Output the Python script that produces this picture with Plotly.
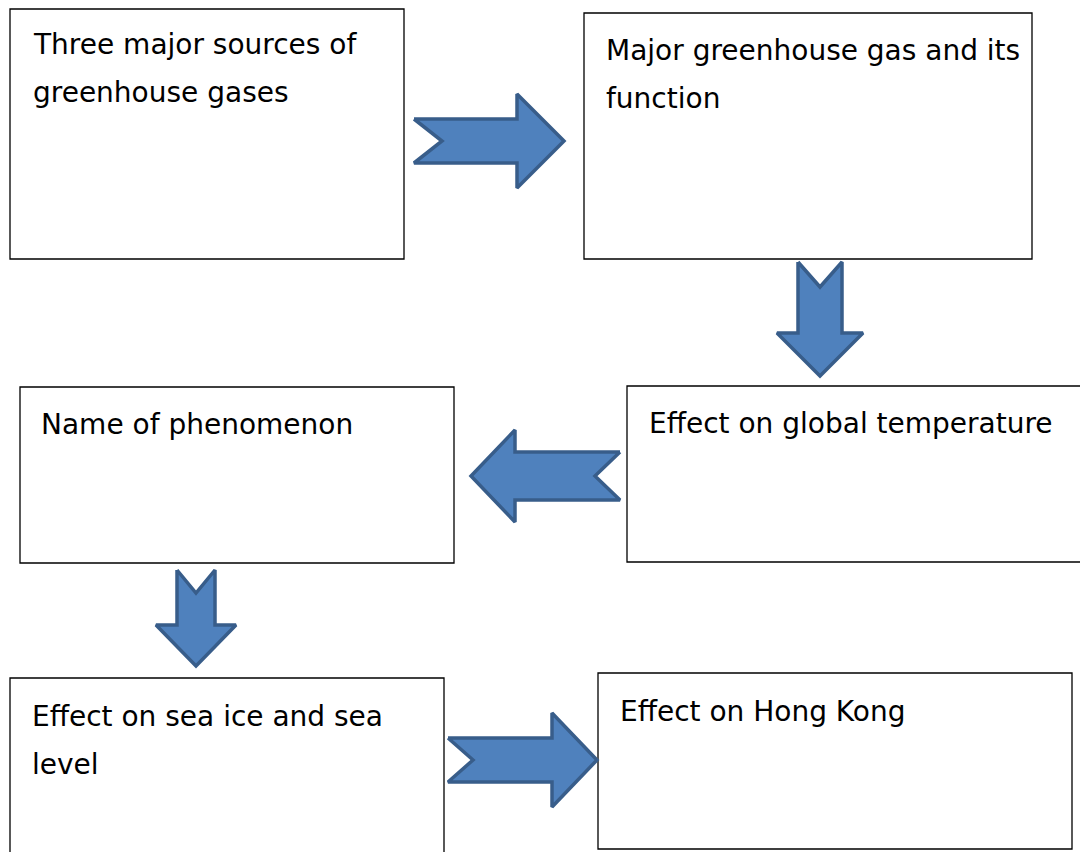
import plotly.graph_objects as go

# Box corners: (x0, y0, x1, y1) in pixel-like diagram units
box_x0 = [10, 584, 20, 627, 10, 598]
box_y0 = [9, 13, 387, 386, 678, 673]
box_x1 = [404, 1032, 454, 1096, 444, 1072]
box_y1 = [259, 259, 563, 562, 870, 849]

# Text lines in each box
box_lines = [
    ["Three major sources of", "greenhouse gases"],
    ["Major greenhouse gas and its", "function"],
    ["Name of phenomenon"],
    ["Effect on global temperature"],
    ["Effect on sea ice and sea", "level"],
    ["Effect on Hong Kong"],
]
text_x = [31, 604, 39, 647, 30, 618]
text_y = [44, 50, 424, 423, 716, 711]
line_gap = 48

# Block arrows: direction, tail position, tip position, shaft half-width, head half-width, head length, notch depth
arrow_dir = ["right", "down", "left", "down", "right"]
arrow_tail = [(414, 141), (820, 262), (620, 476), (196, 570), (448, 760)]
arrow_tip = [(564, 141), (820, 376), (471, 476), (196, 666), (597, 760)]
arrow_shaft_half = [22, 22, 24, 19, 22]
arrow_head_half = [47, 43, 46, 40, 47]
arrow_head_len = [47, 43, 44, 41, 45]
arrow_notch = [28, 25, 25, 23, 25]

fill_color = "#4F81BD"
edge_color = "#385D8A"

# page body margin offset (browser default)
off = 8

fig = go.Figure()

for x0, y0, x1, y1 in zip(box_x0, box_y0, box_x1, box_y1):
    fig.add_shape(type="rect", xref="x", yref="y", x0=x0, y0=y0, x1=x1, y1=y1,
                  line=dict(color="#000000", width=1.3), fillcolor="white", layer="below")


def arrow_polygon(d, tail, tip, sh, hh, hl, nd):
    if d in ("right", "left"):
        L = abs(tip[0] - tail[0])
    else:
        L = abs(tip[1] - tail[1])
    local = [(0, -sh), (L - hl, -sh), (L - hl, -hh), (L, 0), (L - hl, hh), (L - hl, sh), (0, sh), (nd, 0), (0, -sh)]
    xs, ys = [], []
    for u, v in local:
        if d == "right":
            xs.append(tail[0] + u); ys.append(tail[1] + v)
        elif d == "left":
            xs.append(tail[0] - u); ys.append(tail[1] + v)
        else:
            xs.append(tail[0] + v); ys.append(tail[1] + u)
    return xs, ys


for d, tl, tp, sh, hh, hl, nd in zip(arrow_dir, arrow_tail, arrow_tip, arrow_shaft_half,
                                     arrow_head_half, arrow_head_len, arrow_notch):
    xs, ys = arrow_polygon(d, tl, tp, sh, hh, hl, nd)
    fig.add_trace(go.Scatter(x=xs, y=ys, mode="lines", fill="toself", fillcolor=fill_color,
                             line=dict(color=edge_color, width=3.5), hoverinfo="skip",
                             showlegend=False))

for lines, tx, ty in zip(box_lines, text_x, text_y):
    for i, line in enumerate(lines):
        fig.add_annotation(x=tx, y=ty + i * line_gap, text=line, xref="x", yref="y",
                           xanchor="left", yanchor="middle", showarrow=False,
                           font=dict(family="DejaVu Sans", size=28, color="#000000"))

fig.update_layout(
    width=1088, height=852,
    margin=dict(l=0, r=0, t=0, b=0),
    paper_bgcolor="white", plot_bgcolor="white",
    xaxis=dict(range=[off, 1088 + off], visible=False, fixedrange=True),
    yaxis=dict(range=[852 + off, off], visible=False, fixedrange=True),
    showlegend=False,
)

fig.write_html("out.html")
